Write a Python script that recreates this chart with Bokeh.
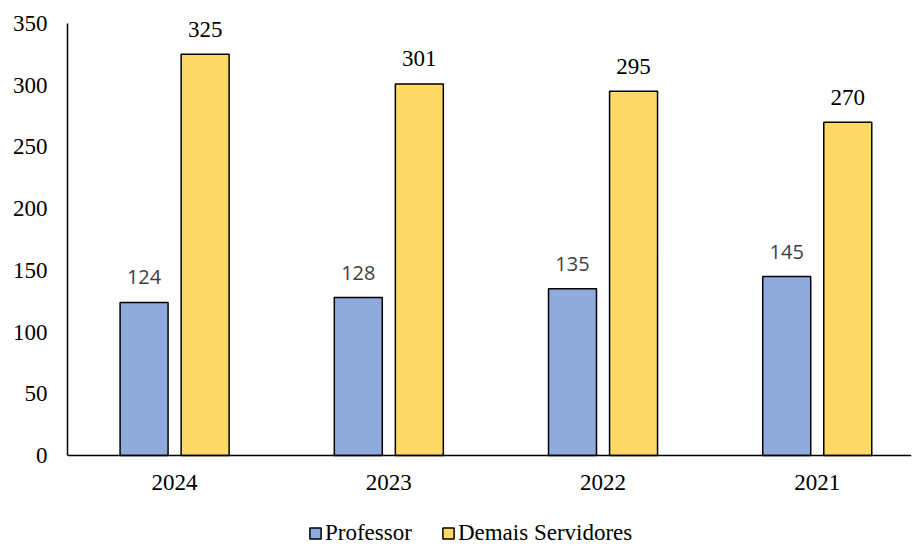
import numpy as np
from bokeh.plotting import figure
from bokeh.models import Range1d, FixedTicker, Legend, LegendItem
from bokeh.core.properties import value
from bokeh.embed import file_html
from bokeh.resources import INLINE

# ---- data ----
years = ["2024", "2023", "2022", "2021"]
professor = [124, 128, 135, 145]
demais = [325, 301, 295, 270]
y_ticks = [0, 50, 100, 150, 200, 250, 300, 350]
series_names = ["Professor", "Demais Servidores"]

# ---- style ----
C_PROF = "#8FAADC"
C_DEM = "#FFD966"
SERIF = "Liberation Serif"
SANS = "Open Sans"
OFF = 0.1425
BW = 0.224
Y_MAX = 350
Y_TOP = 368.6   # headroom above the axis for the value labels
Y_PAD = -73.7   # room below zero for the year labels and legend

idx = np.arange(len(years)) + 0.5

p = figure(width=912, height=546, output_backend="svg", toolbar_location=None,
           x_range=Range1d(0, 3.94), y_range=Range1d(Y_PAD, Y_TOP),
           min_border_left=67, min_border_right=1, min_border_top=0, min_border_bottom=0)
p.outline_line_color = None
p.xgrid.visible = False
p.ygrid.visible = False

r1 = p.vbar(x=idx - OFF, top=professor, width=BW, fill_color=C_PROF,
            line_color="black", line_width=1.5)
r2 = p.vbar(x=idx + OFF, top=demais, width=BW, fill_color=C_DEM,
            line_color="black", line_width=1.5)

p.text(x=idx - OFF, y=professor, text=[str(v) for v in professor],
       text_align="center", text_baseline="alphabetic", y_offset=-25,
       text_font=value(SANS), text_font_size="20px", text_color="#404040")
p.text(x=idx + OFF, y=demais, text=[str(v) for v in demais],
       text_align="center", text_baseline="alphabetic", y_offset=-25,
       text_font=value(SERIF), text_font_size="23px", text_color="black")

# axes
p.yaxis.ticker = FixedTicker(ticks=y_ticks)
p.yaxis.bounds = (0, Y_MAX)
p.xaxis.ticker = FixedTicker(ticks=list(idx))
p.xaxis.fixed_location = 0
p.xaxis.major_label_overrides = {float(x): y for x, y in zip(idx, years)}
for ax in (p.xaxis, p.yaxis):
    ax.major_tick_line_color = None
    ax.minor_tick_line_color = None
    ax.major_tick_out = 0
    ax.major_tick_in = 0
    ax.minor_tick_out = 0
    ax.axis_line_color = "black"
    ax.axis_line_width = 1.5
    ax.major_label_text_font = SERIF
    ax.major_label_text_font_size = "23px"
    ax.major_label_text_color = "black"
p.yaxis.major_label_standoff = 20
p.xaxis.major_label_standoff = 19

legend = Legend(items=[LegendItem(label=series_names[0], renderers=[r1]),
                       LegendItem(label=series_names[1], renderers=[r2])],
                orientation="horizontal", location=(241, 0),
                glyph_width=14, glyph_height=14, label_standoff=3, spacing=29,
                padding=3, margin=0, label_height=14,
                label_text_font=SERIF, label_text_font_size="23px",
                label_text_color="black",
                border_line_color=None, background_fill_alpha=0)
p.add_layout(legend, "center")

open("out.html", "w").write(file_html(p, INLINE))
